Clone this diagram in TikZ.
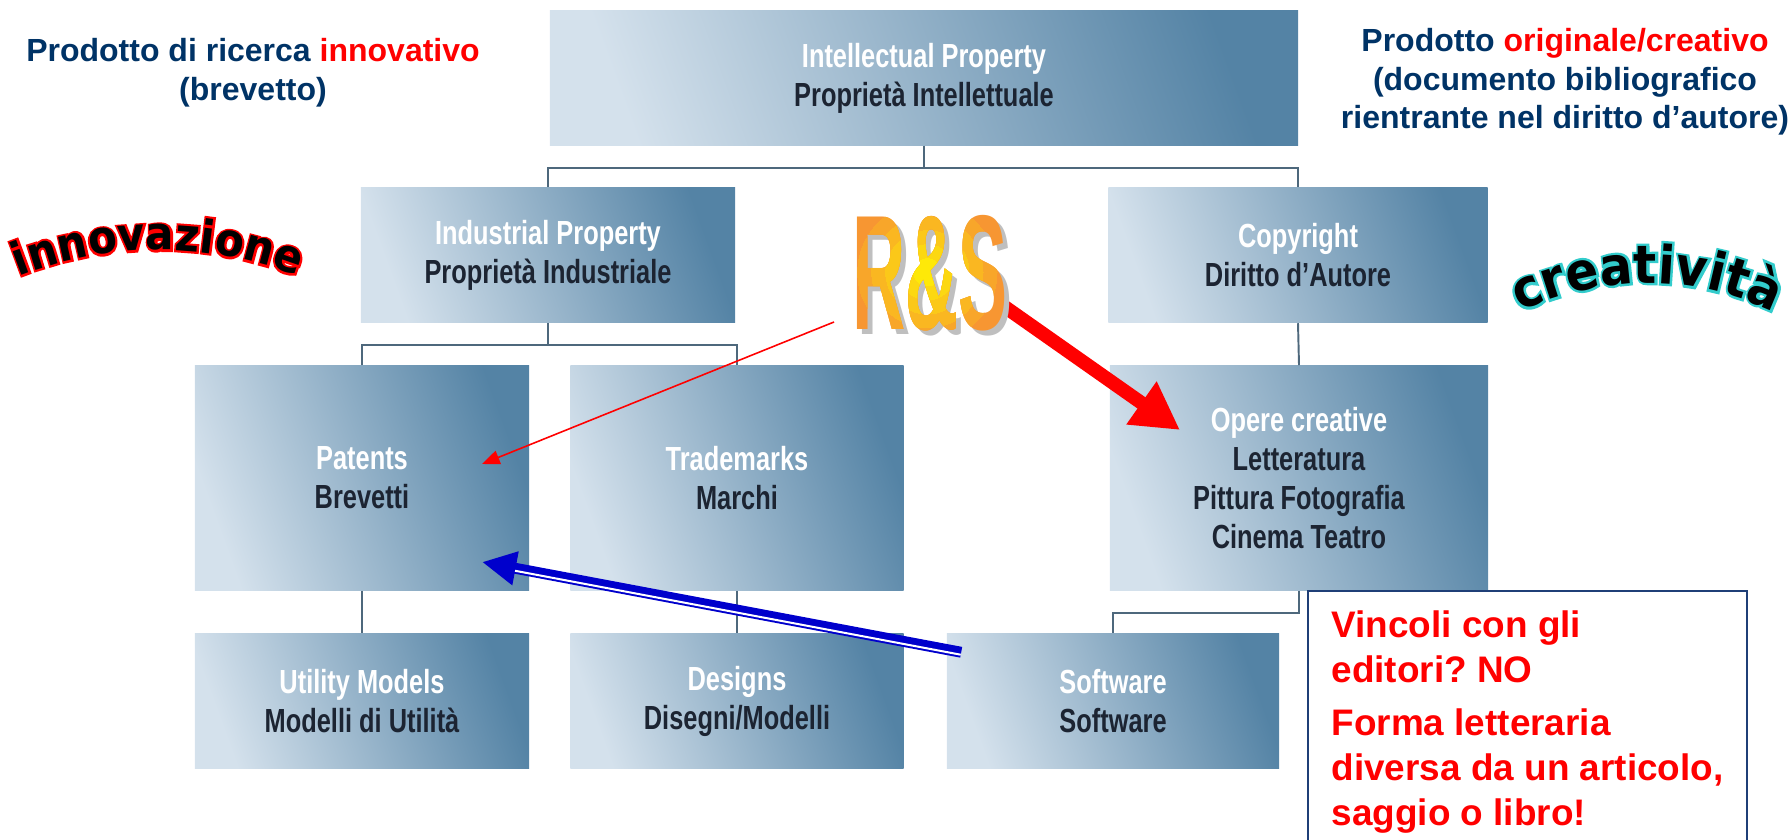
\documentclass[tikz,border=0pt]{standalone}
\usepackage{fontspec}
\setmainfont{Liberation Sans}
\newfontfamily\boxfont[FakeStretch=0.76]{Liberation Sans}
\newfontfamily\rsfont[FakeStretch=0.45]{Liberation Sans}
\newfontfamily\arcfont[FakeStretch=0.92]{DejaVu Sans}
\newfontfamily\arcrim[FakeStretch=0.92,FakeBold=9]{DejaVu Sans}
\usetikzlibrary{arrows.meta,calc}
\frenchspacing

\definecolor{boxlight}{RGB}{212,225,236}
\definecolor{boxdark}{RGB}{84,131,165}
\definecolor{navytxt}{RGB}{0,51,102}
\definecolor{boxink}{RGB}{28,36,50}
\definecolor{busline}{RGB}{78,104,124}
\definecolor{notebord}{RGB}{31,63,119}
\definecolor{rsorange}{RGB}{247,150,50}
\definecolor{rsyellow}{RGB}{255,250,0}
\definecolor{arrowblue}{RGB}{0,0,204}
\definecolor{creacyan}{RGB}{51,204,204}

\tikzset{
  ipbox/.style={shading=axis, left color=boxlight, right color=boxdark,
    shading angle=110, inner sep=0pt, align=center, text=boxink,
    font={\boxfont\bfseries\fontsize{9.5}{11.1}\selectfont}},
  bus/.style={busline, line width=0.55pt},
  bluetxt/.style={inner sep=0pt, align=center, text=navytxt,
    font={\bfseries\fontsize{9.1}{10.9}\selectfont}},
  notebox/.style={draw=notebord, line width=0.5pt, fill=white, text=red,
    align=left, minimum width=4.39cm, inner xsep=0pt, inner ysep=0.2cm,
    font={\bfseries\fontsize{10.5}{12.8}\selectfont}},
  rsletters/.style={inner sep=0pt, anchor=base,
    font={\rsfont\bfseries\fontsize{46.5}{50}\selectfont}},
  arcletter/.style={inner sep=0pt, anchor=base, text=black},
}

% letter with a coloured rim
\newcommand{\rimchar}[3]{\makebox[0pt]{\textcolor{#1}{\arcrim\bfseries#3}}\makebox[0pt]{\arcfont\bfseries#3}}

\begin{document}
\begin{tikzpicture}[x=0.01cm,y=-0.01cm]

  \useasboundingbox (0,0) rectangle (1791,840);
  \clip (0,0) rectangle (1791,840);

  % boxes
  \node[ipbox, minimum width=7.48cm, minimum height=1.34cm] (top) at (924,78)
    {\textcolor{white}{Intellectual Property}\\Proprietà Intellettuale};
  \node[ipbox, minimum width=3.74cm, minimum height=1.35cm] (ind) at (548,255)
    {\textcolor{white}{Industrial Property}\\Proprietà Industriale};
  \node[ipbox, minimum width=3.79cm, minimum height=1.35cm] (copy) at (1298,255)
    {\textcolor{white}{Copyright}\\Diritto d’Autore};
  \node[ipbox, minimum width=3.34cm, minimum height=2.24cm] (pat) at (362,478)
    {\textcolor{white}{Patents}\\Brevetti};
  \node[ipbox, minimum width=3.33cm, minimum height=2.24cm] (tm) at (737,478)
    {\textcolor{white}{Trademarks}\\Marchi};
  \node[ipbox, minimum width=3.78cm, minimum height=2.24cm] (opere) at (1299,478)
    {\textcolor{white}{Opere creative}\\Letteratura\\Pittura Fotografia\\Cinema Teatro};
  \node[ipbox, minimum width=3.34cm, minimum height=1.34cm] (util) at (362,701)
    {\textcolor{white}{Utility Models}\\Modelli di Utilità};
  \node[ipbox, minimum width=3.33cm, minimum height=1.34cm] (des) at (737,701)
    {\textcolor{white}{Designs}\\Disegni/Modelli};
  \node[ipbox, minimum width=3.32cm, minimum height=1.34cm] (soft) at (1113,701)
    {\textcolor{white}{Software}\\Software};

  % tree lines
  \coordinate (j1) at (924,168);
  \coordinate (j2) at (548,345);
  \draw[bus] (top.south) -- (j1);
  \draw[bus] (ind.north) |- (j1) -| (copy.north);
  \draw[bus] (ind.south) -- (j2);
  \draw[bus] (pat.north) |- (j2) -| (tm.north);
  \draw[bus] (copy.south) -- (opere.north);
  \draw[bus] (pat.south) -- (util.north);
  \draw[bus] (tm.south) -- (des.north);
  \draw[bus] (opere.south) -- ++(0,22) -| (soft.north);

  % headings
  \node[bluetxt, anchor=north] (lefthead) at (253,38)
    {Prodotto di ricerca \textcolor{red}{innovativo}\\(brevetto)};
  \node[bluetxt, anchor=north] (righthead) at (1565,28)
    {Prodotto \textcolor{red}{originale/creativo}\\(documento bibliografico\\rientrante nel diritto d’autore)};

  \node[notebox, anchor=north west] (note) at (1307,590)
    {Vincoli con gli\\editori? NO\\[2.3pt]Forma letteraria\\diversa da un articolo,\\saggio o libro!};

  % arched words
  \foreach \ch/\o [count=\i] in {i/-3.22, n/-2.69, n/-1.98, o/-1.28, v/-0.61, a/0.05,
      z/0.68, i/1.14, o/1.66, n/2.36, e/3.05}{
    \pgfmathsetmacro\ang{deg(\o*42/380)}
    \node[arcletter, rotate=-\ang, font={\fontsize{13}{14}\selectfont}] (inn\i)
      at ({158+380*sin(\ang)},{630-380*cos(\ang)}) {\rimchar{red}{}{\ch}};
  }
  \foreach \ch/\o [count=\i] in {c/-2.41, r/-1.86, e/-1.28, a/-0.60, t/-0.03, i/0.38,
      v/0.88, i/1.38, t/1.79, à/2.37}{
    \pgfmathsetmacro\ang{deg(\o*48.5/290)}
    \node[arcletter, rotate=-\ang, font={\fontsize{15}{16}\selectfont}] (cre\i)
      at ({1647+290*sin(\ang)},{573-290*cos(\ang)}) {\rimchar{creacyan}{}{\ch}};
  }

  % arrows
  \coordinate (thinfrom) at (834,322);
  \coordinate (thinto) at ($(pat.center)+(120,-14)$);
  \coordinate (thickfrom) at (1005,307);
  \coordinate (thickto) at ($(opere.center)+(-119,-48)$);
  \coordinate (bstart) at ($(soft.north west)+(15,19)$);
  \coordinate (btip) at ($(pat.center)+(120,84)$);
  \coordinate (bbase) at ($(btip)!9.7pt!(bstart)$);

  \draw[red, line width=0.45pt, -{Triangle[length=5pt,width=4pt]}] (thinfrom) -- (thinto);
  \draw[red, line width=3.9pt, -{Triangle[length=13.4pt,width=14pt]}] (thickfrom) -- (thickto);
  \draw[arrowblue, line width=3.1pt, -{Triangle[length=9.7pt,width=9.1pt]}] (bstart) -- (btip);
  \draw[white, line width=0.57pt] ($(bstart)!0.71pt!90:(btip)$) -- ($(bbase)!0.71pt!-90:(bstart)$);

  % R&S
  \node[rsletters, text=black!25] (rsshadow) at (935,335) {R\&S};
  \node[rsletters, text=rsorange] (rs) at (930,330) {R\&S};
  \foreach \r in {70,56,42,28,14}{
    \pgfmathtruncatemacro\mix{100-\r*100/84}
    \begin{scope}
      \clip (927,272) circle[radius=\r*0.01cm];
      \node[rsletters, text=rsyellow!\mix!rsorange] (rs\r) at (rs.base) {R\&S};
    \end{scope}
  }

\end{tikzpicture}
\end{document}
